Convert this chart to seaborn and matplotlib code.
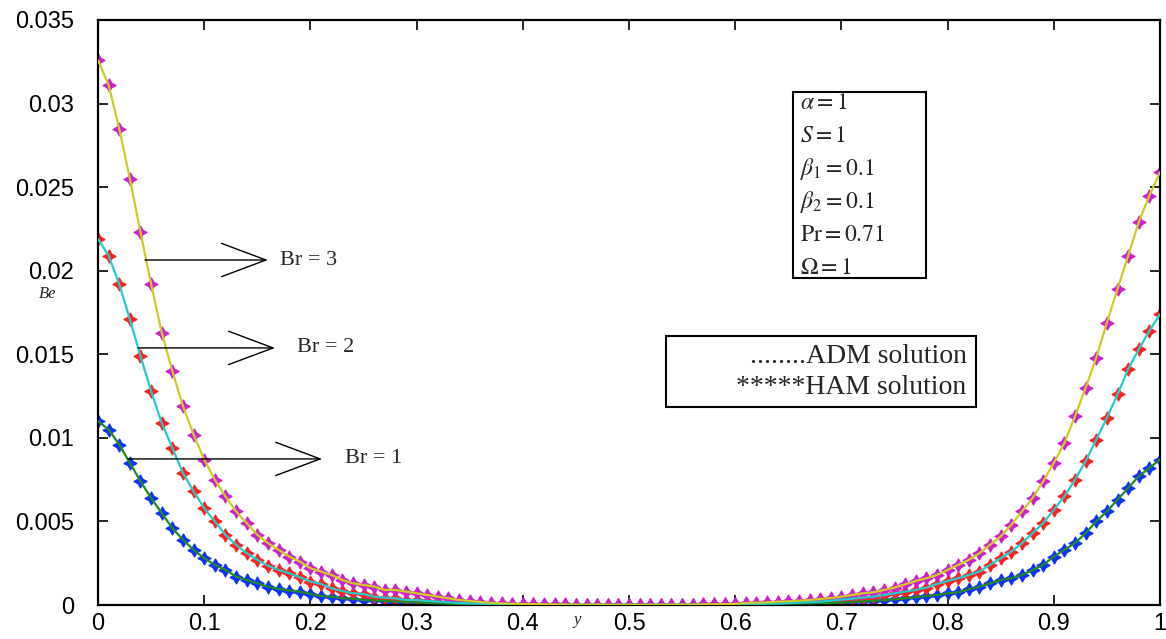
import numpy as np
import pandas as pd
import matplotlib
matplotlib.use('Agg')
import matplotlib.pyplot as plt
from matplotlib.patches import Rectangle
import seaborn as sns

# y positions (0 .. 1 in steps of 0.01)
y_pos = [round(i * 0.01, 2) for i in range(101)]

# Bejan number, Br = 1
be_br1 = [
    0.0110, 0.0105, 0.0096, 0.0085, 0.0074, 0.0064, 0.0055, 0.0046, 0.0039, 0.0033,
    0.0028, 0.0024, 0.0021, 0.0017, 0.0015, 0.0013, 0.0011, 0.00096, 0.00086, 0.0008,
    0.00066, 0.00054, 0.0005, 0.0004, 0.00038, 0.0003, 0.00028, 0.00024, 0.0002, 0.00018,
    0.00015, 0.00012, 0.0001, 0.00008, 0.00006, 0.00005, 0.00004, 0.00003, 0.00003, 0.00002,
    0.00002, 0.00002, 0.00001, 0.00001, 0.00001, 0.00001, 0.00001, 0.00001, 0.00001, 0.00001,
    0.00001, 0.00001, 0.00001, 0.00001, 0.00001, 0.00001, 0.00001, 0.00002, 0.00002, 0.00002,
    0.00003, 0.00004, 0.00005, 0.00006, 0.00007, 0.00008, 0.00009, 0.0001, 0.00011, 0.00012,
    0.00015, 0.00018, 0.00021, 0.00025, 0.0003, 0.00034, 0.0004, 0.00046, 0.00054, 0.0006,
    0.0007, 0.00076, 0.00094, 0.0011, 0.0013, 0.0015, 0.0016, 0.0018, 0.0021, 0.0024,
    0.0029, 0.0033, 0.0037, 0.0043, 0.0050, 0.0056, 0.0063, 0.0070, 0.0077, 0.0082,
    0.0087,
]

# Bejan number, Br = 2
be_br2 = [
    0.0219, 0.0209, 0.0192, 0.0171, 0.0149, 0.0128, 0.0109, 0.0094, 0.0079, 0.0068,
    0.0058, 0.0050, 0.0042, 0.0036, 0.0031, 0.0027, 0.00235, 0.0021, 0.0019, 0.00166,
    0.0014, 0.00126, 0.0010, 0.00084, 0.0007, 0.00066, 0.0005, 0.00044, 0.0004, 0.0003,
    0.0003, 0.00024, 0.0002, 0.00016, 0.00012, 0.0001, 0.00008, 0.00006, 0.00005, 0.00004,
    0.00003, 0.00003, 0.00002, 0.00002, 0.00002, 0.00001, 0.00001, 0.00001, 0.00001, 0.00001,
    0.00001, 0.00001, 0.00001, 0.00001, 0.00001, 0.00002, 0.00002, 0.00003, 0.00003, 0.00004,
    0.00005, 0.00006, 0.00007, 0.00008, 0.00009, 0.00011, 0.00014, 0.00017, 0.0002, 0.00026,
    0.00032, 0.00038, 0.00044, 0.0005, 0.0006, 0.0007, 0.0008, 0.0009, 0.00104, 0.00126,
    0.00144, 0.0016, 0.0018, 0.0020, 0.0024, 0.0028, 0.0032, 0.0037, 0.0043, 0.0049,
    0.0057, 0.0065, 0.0075, 0.0086, 0.0099, 0.0112, 0.0126, 0.0141, 0.0153, 0.0164,
    0.0174,
]

# Bejan number, Br = 3
be_br3 = [
    0.0326, 0.0311, 0.0285, 0.0255, 0.0223, 0.0192, 0.0163, 0.0140, 0.0119, 0.0102,
    0.0087, 0.0075, 0.0065, 0.0056, 0.0049, 0.0042, 0.0037, 0.0033, 0.0029, 0.0026,
    0.0022, 0.0020, 0.0018, 0.0015, 0.0013, 0.0012, 0.0011, 0.0009, 0.0009, 0.0008,
    0.0007, 0.0006, 0.0005, 0.0004, 0.0003, 0.00024, 0.00018, 0.00013, 0.0001, 0.00008,
    0.00006, 0.00005, 0.00004, 0.00003, 0.00003, 0.00002, 0.00002, 0.00002, 0.00001, 0.00001,
    0.00001, 0.00001, 0.00001, 0.00001, 0.00002, 0.00002, 0.00002, 0.00003, 0.00004, 0.00005,
    0.00007, 0.00012, 0.00014, 0.00016, 0.0002, 0.00022, 0.00026, 0.0003, 0.00036, 0.00042,
    0.0005, 0.0006, 0.0007, 0.00076, 0.0009, 0.00104, 0.00124, 0.00144, 0.0016, 0.0018,
    0.0021, 0.0024, 0.0027, 0.0031, 0.0036, 0.0041, 0.0048, 0.0056, 0.0064, 0.0074,
    0.0085, 0.0097, 0.0113, 0.0130, 0.0148, 0.0169, 0.0189, 0.0209, 0.0229, 0.0245,
    0.0259,
]

series_names = ['Br = 1', 'Br = 2', 'Br = 3']
line_colors = ['#1f8a1f', '#22cccc', '#cccc22']
marker_colors = ['#1030ff', '#ff2020', '#cc22cc']

x_ticks = [0, 0.1, 0.2, 0.3, 0.4, 0.5, 0.6, 0.7, 0.8, 0.9, 1]
x_tick_labels = ['0', '0.1', '0.2', '0.3', '0.4', '0.5', '0.6', '0.7', '0.8', '0.9', '1']
y_ticks = [0, 0.005, 0.01, 0.015, 0.02, 0.025, 0.03, 0.035]
y_tick_labels = ['0', '0.005', '0.01', '0.015', '0.02', '0.025', '0.03', '0.035']

param_lines = [r'$\alpha = 1$', r'$S = 1$', r'$\beta_1 = 0.1$',
               r'$\beta_2 = 0.1$', r'$\mathrm{Pr} = 0.71$', r'$\Omega = 1$']

df = pd.DataFrame({
    'y': y_pos * 3,
    'Be': be_br1 + be_br2 + be_br3,
    'Br': [n for n in series_names for _ in y_pos],
})

sns.set_style('ticks')
plt.rcParams['font.family'] = ['Liberation Sans', 'DejaVu Sans']
plt.rcParams['mathtext.fontset'] = 'stix'

fig = plt.figure(figsize=(11.66, 6.39), dpi=100)
ax = fig.add_axes([98 / 1166, 34 / 639, 1062 / 1166, 585 / 639])

# HAM solution (markers)
for name, col in zip(series_names, marker_colors):
    sub = df[df['Br'] == name]
    sns.scatterplot(data=sub, x='y', y='Be', color=col, marker=(4, 1, 0), s=85,
                    edgecolor=col, linewidth=1.0, legend=False, ax=ax, zorder=2)
# ADM solution (lines)
sns.lineplot(data=df, x='y', y='Be', hue='Br', palette=line_colors,
             linewidth=1.6, legend=False, ax=ax, zorder=3)

ax.set_xlim(0, 1)
ax.set_ylim(0, 0.035)
ax.set_xticks(x_ticks)
ax.set_xticklabels(x_tick_labels)
ax.set_yticks(y_ticks)
ax.set_yticklabels(y_tick_labels)
ax.tick_params(direction='in', top=True, right=True, length=7, width=1.2,
               labelsize=17, colors='black')
ax.tick_params(axis='y', pad=17)
ax.tick_params(axis='x', pad=6)
for sp in ax.spines.values():
    sp.set_linewidth(1.6)
    sp.set_color('black')
ax.set_xlabel('')
ax.set_ylabel('')

serif = ['Liberation Serif', 'DejaVu Serif']
ax.text(0.451, -0.026, 'y', transform=ax.transAxes, fontsize=12, style='italic',
        family=serif, ha='center', va='center')
ax.text(-0.047, 0.532, 'Be', transform=ax.transAxes, fontsize=12, style='italic',
        family=serif, ha='center', va='center')

# Br arrows
arrow_specs = [
    (0.0282, 0.211, 0.00874, 0.233, 'Br = 1'),
    (0.0377, 0.1667, 0.01538, 0.187, 'Br = 2'),
    (0.0443, 0.160, 0.02064, 0.171, 'Br = 3'),
]
for x0, x1, yv, xt, lab in arrow_specs:
    ax.annotate('', xy=(x1, yv), xytext=(x0, yv),
                arrowprops=dict(arrowstyle='->, head_length=1.6, head_width=0.6',
                                color='black', lw=1.0, shrinkA=0, shrinkB=0,
                                mutation_scale=20))
    ax.text(xt, yv, lab, fontsize=16, family=serif, ha='left', va='center')

# parameter box
ax.add_patch(Rectangle((0.654, 0.559), 0.126, 0.318, transform=ax.transAxes,
                       fill=False, ec='black', lw=1.5))
for i, t in enumerate(param_lines):
    ax.text(0.661, 0.858 - i * 0.0565, t, transform=ax.transAxes, fontsize=17,
            ha='left', va='center')

# ADM / HAM legend box
ax.add_patch(Rectangle((0.535, 0.338), 0.292, 0.122, transform=ax.transAxes,
                       fill=False, ec='black', lw=1.5))
ax.text(0.818, 0.424, '........ADM solution', transform=ax.transAxes, fontsize=20,
        family=serif, ha='right', va='center')
ax.text(0.818, 0.371, '*****HAM solution', transform=ax.transAxes, fontsize=20,
        family=serif, ha='right', va='center')

fig.savefig('out.png', dpi=100)
